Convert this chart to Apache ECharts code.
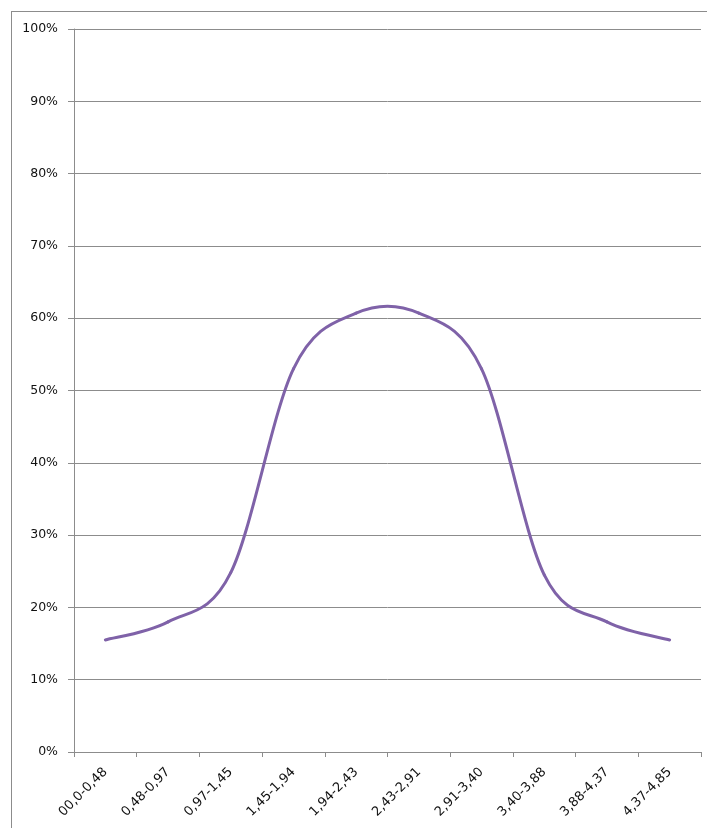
<!DOCTYPE html>
<html>
<head>
<meta charset="utf-8">
<script src="https://cdn.jsdelivr.net/npm/echarts@6/dist/echarts.min.js"></script>
<style>
  html, body { margin: 0; padding: 0; background: #fff; }
  #frame { position: absolute; left: 11px; top: 11px; width: 720px; height: 840px; border: 1px solid #8c8c8c; box-sizing: border-box; }
  #chart { position: absolute; left: 0; top: 0; width: 707px; height: 828px; }
</style>
</head>
<body>
<div id="frame"></div>
<div id="chart"></div>
<script>
const categories = ['00,0-0,48', '0,48-0,97', '0,97-1,45', '1,45-1,94', '1,94-2,43', '2,43-2,91', '2,91-3,40', '3,40-3,88', '3,88-4,37', '4,37-4,85'];
const values = [15.5, 18, 24.8, 53, 60.7, 60.7, 53, 24.5, 18, 15.5];
const yMin = 0, yMax = 100, yStep = 10;

const lineColor = '#7f62a8';

// Excel-like smoothed line: cubic Bezier segments (Catmull-Rom tangents) between
// consecutive data points, positioned through the chart's own axes (api.coord).
function renderSegment(params, api) {
  const i = params.dataIndex;
  const n = values.length;
  if (i >= n - 1) return null;
  const P = (k) => {
    const kk = Math.max(0, Math.min(n - 1, k));
    return api.coord([kk, values[kk]]);
  };
  const p0 = P(i - 1), p1 = P(i), p2 = P(i + 1), p3 = P(i + 2);
  const t = 1 / 6;
  return {
    type: 'bezierCurve',
    shape: {
      x1: p1[0], y1: p1[1],
      x2: p2[0], y2: p2[1],
      cpx1: p1[0] + (p2[0] - p0[0]) * t, cpy1: p1[1] + (p2[1] - p0[1]) * t,
      cpx2: p2[0] - (p3[0] - p1[0]) * t, cpy2: p2[1] - (p3[1] - p1[1]) * t
    },
    style: { stroke: lineColor, lineWidth: 3, fill: null, lineCap: 'round' }
  };
}

const chart = echarts.init(document.getElementById('chart'), null, { renderer: 'canvas' });
chart.setOption({
  animation: false,
  backgroundColor: 'transparent',
  grid: { left: 74, right: 6, top: 29, bottom: 76, outerBoundsMode: 'none', containLabel: false },
  xAxis: {
    type: 'category',
    data: categories,
    boundaryGap: true,
    axisLine: { lineStyle: { color: '#8c8c8c', width: 1 } },
    axisTick: { show: true, length: 5, lineStyle: { color: '#8c8c8c' } },
    axisLabel: { rotate: 45, margin: 18, color: '#111', fontFamily: 'DejaVu Sans', fontSize: 13, interval: 0 },
    splitLine: { show: false }
  },
  yAxis: {
    type: 'value',
    min: yMin, max: yMax, interval: yStep,
    axisLine: { show: true, lineStyle: { color: '#8c8c8c', width: 1 } },
    axisTick: { show: true, length: 6, lineStyle: { color: '#8c8c8c' } },
    axisLabel: { formatter: '{value}%', margin: 16, color: '#111', fontFamily: 'DejaVu Sans', fontSize: 12.5 },
    splitLine: { show: true, lineStyle: { color: '#8c8c8c', width: 1 } }
  },
  series: [{
    type: 'custom',
    renderItem: renderSegment,
    data: values.map((v, i) => [i, v]),
    encode: { x: 0, y: 1 }
  }]
});
</script>
</body>
</html>
